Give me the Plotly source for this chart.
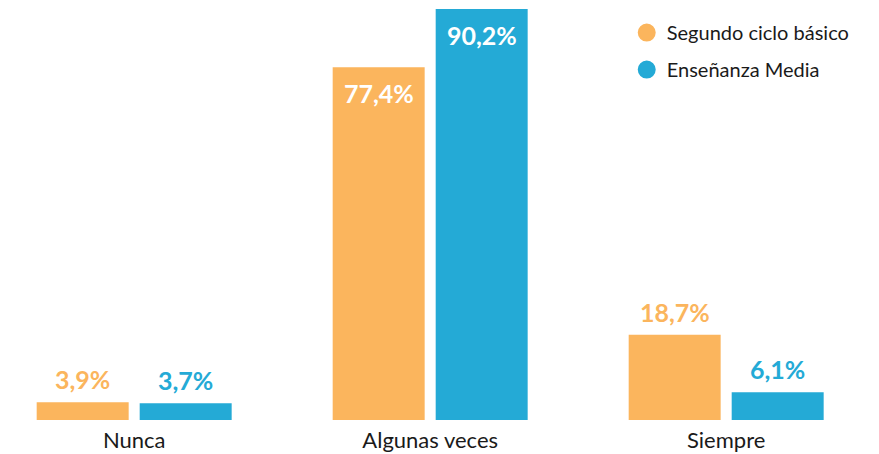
import plotly.graph_objects as go

categories = ["Nunca", "Algunas veces", "Siempre"]
series_names = ["Segundo ciclo básico", "Enseñanza Media"]
segundo = [3.9, 77.4, 18.7]
media = [3.7, 90.2, 6.1]
labels_segundo = ["3,9%", "77,4%", "18,7%"]
labels_media = ["3,7%", "90,2%", "6,1%"]

colors = ["#FBB55D", "#24AAD6"]
FONT = "Lato"

fig = go.Figure()
for name, vals, col in zip(series_names, [segundo, media], colors):
    fig.add_trace(go.Bar(x=categories, y=vals, name=name, marker=dict(color=col, line=dict(width=0)),
                         showlegend=False, hoverinfo="skip"))
for i, (name, col) in enumerate(zip(series_names, colors)):
    fig.add_trace(go.Scatter(x=[None], y=[None], mode="markers", name=name,
                             legendgroup=f"g{i}",
                             marker=dict(color=col, size=16, symbol="circle", line=dict(color=col, width=2))))

annotations = []
SLOT = 51.5
for vals, labs, col, sh in [(segundo, labels_segundo, colors[0], -SLOT), (media, labels_media, colors[1], SLOT)]:
    for c, v, t in zip(categories, vals, labs):
        inside = v > 50
        annotations.append(dict(
            x=c, y=v, xref="x", yref="y", text=f"<b>{t}</b>", showarrow=False,
            xshift=sh, yanchor="top" if inside else "bottom",
            yshift=-9 if inside else 6,
            font=dict(family=FONT, size=25, color="white" if inside else col)))

fig.update_layout(
    width=879, height=454,
    margin=dict(l=0, r=0, t=9, b=34),
    paper_bgcolor="white", plot_bgcolor="white",
    barmode="group", bargap=0.304, bargroupgap=0.107,
    font=dict(family=FONT, color="#1a1a1a"),
    xaxis=dict(range=[-0.4533, 2.5163], showgrid=False, zeroline=False, showline=False,
               ticks="outside", ticklen=1, tickcolor="rgba(0,0,0,0)",
               tickfont=dict(family=FONT, size=22, color="#1a1a1a")),
    yaxis=dict(range=[0, 90.2], visible=False, showgrid=False, zeroline=False),
    legend=dict(x=0.713, y=0.99, xanchor="left", yanchor="top", traceorder="grouped",
                tracegroupgap=8, font=dict(family=FONT, size=20, color="#1a1a1a"),
                bgcolor="rgba(0,0,0,0)", borderwidth=0, itemsizing="trace"),
    annotations=annotations,
)

fig.write_html("out.html")
